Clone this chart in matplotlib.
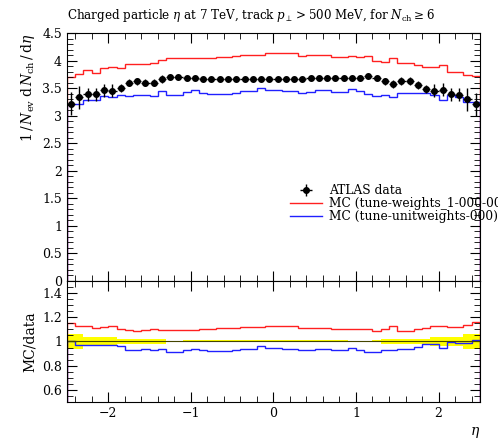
import numpy as np
import matplotlib
matplotlib.use('Agg')
import matplotlib.pyplot as plt
from matplotlib.ticker import MultipleLocator, FixedLocator, FormatStrFormatter

plt.rcParams['font.family'] = 'DejaVu Serif'
plt.rcParams['mathtext.fontset'] = 'dejavuserif'

# eta binning, 50 bins of width 0.1
edges = np.round(np.linspace(-2.5, 2.5, 51), 2)
centers = 0.5 * (edges[:-1] + edges[1:])

# ATLAS data, 1/Nev dNch/deta
data = np.array([3.22, 3.33, 3.39, 3.39, 3.46, 3.45, 3.50, 3.60, 3.62, 3.60,
                 3.60, 3.67, 3.71, 3.70, 3.68, 3.68, 3.67, 3.67, 3.67, 3.67,
                 3.66, 3.66, 3.66, 3.66, 3.66, 3.67, 3.67, 3.67, 3.67, 3.68,
                 3.68, 3.68, 3.68, 3.68, 3.69, 3.69, 3.72, 3.68, 3.62, 3.58,
                 3.63, 3.63, 3.56, 3.49, 3.45, 3.47, 3.39, 3.38, 3.30, 3.21])
data_err = np.array([0.21, 0.21, 0.12, 0.12, 0.12, 0.12, 0.07, 0.07, 0.07, 0.07,
                     0.07, 0.07, 0.03, 0.03, 0.03, 0.03, 0.03, 0.03, 0.03, 0.03,
                     0.03, 0.03, 0.03, 0.03, 0.03, 0.03, 0.03, 0.03, 0.03, 0.03,
                     0.03, 0.03, 0.03, 0.03, 0.03, 0.03, 0.03, 0.03, 0.07, 0.07,
                     0.07, 0.07, 0.07, 0.07, 0.12, 0.12, 0.12, 0.12, 0.21, 0.21])

# MC predictions
mc_weights = np.array([3.71, 3.76, 3.83, 3.78, 3.86, 3.89, 3.87, 3.93, 3.93, 3.93,
                       3.96, 4.01, 4.05, 4.04, 4.04, 4.04, 4.04, 4.04, 4.07, 4.07,
                       4.08, 4.10, 4.10, 4.10, 4.13, 4.13, 4.13, 4.13, 4.09, 4.10,
                       4.10, 4.10, 4.07, 4.07, 4.08, 4.06, 4.09, 4.00, 3.98, 4.04,
                       3.95, 3.95, 3.92, 3.89, 3.89, 3.92, 3.80, 3.79, 3.74, 3.72])
mc_unit = np.array([3.22, 3.22, 3.28, 3.28, 3.35, 3.34, 3.38, 3.36, 3.37, 3.38,
                    3.36, 3.45, 3.38, 3.37, 3.43, 3.46, 3.42, 3.39, 3.39, 3.39,
                    3.41, 3.44, 3.44, 3.51, 3.46, 3.47, 3.45, 3.45, 3.42, 3.43,
                    3.46, 3.46, 3.43, 3.43, 3.49, 3.44, 3.39, 3.36, 3.37, 3.34,
                    3.41, 3.41, 3.41, 3.41, 3.37, 3.28, 3.37, 3.33, 3.25, 3.24])

labels = ['ATLAS data', 'MC (tune-weights_1-000-000)', 'MC (tune-unitweights-000)']

fig = plt.figure(figsize=(4.98, 4.4), dpi=100)
ax = fig.add_axes([0.1345, 0.3614, 0.829, 0.5636])
rax = fig.add_axes([0.1345, 0.0864, 0.829, 0.275])

# main panel
eb = ax.errorbar(centers, data, yerr=data_err, xerr=0.05, fmt='o', color='k',
                 ms=4, lw=1, capsize=0, zorder=3)
ax.stairs(mc_weights, edges, color='#ff2020', lw=1)
ax.stairs(mc_unit, edges, color='#2020ff', lw=1)
h1, = ax.plot([], [], color='#ff2020', lw=1)
h2, = ax.plot([], [], color='#2020ff', lw=1)
ax.legend([eb, h1, h2], labels, loc='upper left', bbox_to_anchor=(0.525, 0.415),
          frameon=False, fontsize=8.8, handlelength=2.6, handletextpad=0.6,
          labelspacing=0.0, borderpad=0)

ax.set_xlim(-2.5, 2.5)
ax.set_ylim(0, 4.5)
ax.xaxis.set_major_locator(MultipleLocator(1))
ax.xaxis.set_minor_locator(MultipleLocator(0.2))
ax.yaxis.set_major_locator(MultipleLocator(0.5))
ax.yaxis.set_minor_locator(MultipleLocator(0.1))
ax.yaxis.set_major_formatter(FormatStrFormatter('%g'))
ax.tick_params(which='both', direction='in', top=True, right=True,
               labelbottom=False, labelsize=9)
ax.tick_params(which='major', length=7)
ax.tick_params(which='minor', length=4)
ax.set_ylabel(r'$1\,/\,N_\mathrm{ev}\;\mathrm{d}\,N_\mathrm{ch}\,/\,\mathrm{d}\eta$',
              loc='top', fontsize=10)

fig.text(0.1345, 0.965,
         r'Charged particle $\eta$ at 7 TeV, track $p_\perp > 500$ MeV, for $N_\mathrm{ch} \geq 6$',
         ha='left', va='center', fontsize=8.6)

# ratio panel
rel = data_err / data
rax.fill_between(edges, np.r_[1 - rel, 1 - rel[-1]], np.r_[1 + rel, 1 + rel[-1]],
                 step='post', color='#ffff00', lw=0)
rax.axhline(1, color='#444400', lw=0.8)
rax.stairs(mc_weights / data, edges, color='#ff2020', lw=1)
rax.stairs(mc_unit / data, edges, color='#2020ff', lw=1)

rax.set_xlim(-2.5, 2.5)
rax.set_ylim(0.5, 1.5)
rax.xaxis.set_major_locator(MultipleLocator(1))
rax.xaxis.set_minor_locator(MultipleLocator(0.2))
rax.yaxis.set_major_locator(FixedLocator([0.6, 0.8, 1.0, 1.2, 1.4]))
rax.yaxis.set_minor_locator(MultipleLocator(0.05))
rax.yaxis.set_major_formatter(FormatStrFormatter('%g'))
rax.tick_params(which='both', direction='in', top=True, right=True, labelsize=9)
rax.tick_params(which='major', length=7)
rax.tick_params(which='minor', length=4)
rax.set_ylabel('MC/data', fontsize=10)
rax.set_xlabel(r'$\eta$', loc='right', fontsize=10)

fig.savefig('out.png', dpi=100)
